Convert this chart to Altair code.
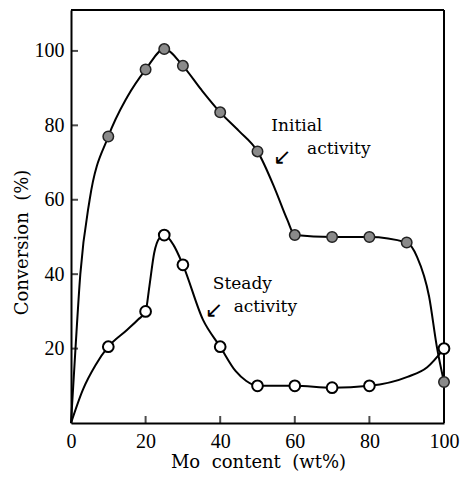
import altair as alt
import pandas as pd

# Measured points
init_x = [10, 20, 25, 30, 40, 50, 60, 70, 80, 90, 100]
init_y = [77, 95, 100.5, 96, 83.5, 73, 50.5, 50, 50, 48.5, 11]
steady_x = [10, 20, 25, 30, 40, 50, 60, 70, 80, 100]
steady_y = [20.5, 30, 50.5, 42.5, 20.5, 10, 10, 9.5, 10, 20]

# Smooth curve traces
init_curve_x = [0, 1.2, 2.5, 5, 10, 15, 20, 25, 30, 35, 40, 45, 50, 54.8, 58, 60, 70, 80, 90, 92.8, 96, 98.1, 100]
init_curve_y = [0, 20, 40, 60, 77, 87.5, 95, 100.5, 96, 89.5, 83.5, 78.5, 73, 62.6, 54.6, 50.5, 50, 50, 48.5, 44.6, 34, 20.4, 11]
steady_curve_x = [0, 3.2, 6.6, 10, 15, 18, 20, 21, 22.3, 23.7, 25, 27.5, 30, 35.4, 40, 44.1, 47, 50, 60, 70, 80, 90.2, 95.5, 100]
steady_curve_y = [0, 9, 15.6, 20.5, 25, 27.8, 30, 36.6, 45.7, 49.7, 50.5, 47.8, 42.5, 27.7, 20.5, 14, 11.3, 10, 10, 9.5, 10, 12.4, 15, 20]

x_ticks = [0, 20, 40, 60, 80, 100]
y_ticks = [20, 40, 60, 80, 100]
x_inner_ticks = [20, 40, 60, 80]
x_max = 100
y_max = 111

# frame edges (top and right), in data units
frame_x = [0, 100]
frame_x2 = [100, 100]
frame_y = [111, 0]
frame_y2 = [111, 111]

labels_text = ["Initial", "activity", "Steady", "activity"]
labels_x = [53.7, 63.3, 38, 43.6]
labels_y = [78.5, 72.3, 36, 29.8]
arrows_x = [56.6, 38.3]
arrows_y = [71.5, 30.4]

SERIF = "Liberation Serif"
TXT = "DejaVu Serif"
NB = "\u00a0"

xs = alt.Scale(domain=[0, x_max], nice=False)
ys = alt.Scale(domain=[0, y_max], nice=False)

pts_i = pd.DataFrame({"x": init_x, "y": init_y})
pts_s = pd.DataFrame({"x": steady_x, "y": steady_y})
cur_i = pd.DataFrame({"x": init_curve_x, "y": init_curve_y})
cur_s = pd.DataFrame({"x": steady_curve_x, "y": steady_curve_y})
frame = pd.DataFrame({"x": frame_x, "x2": frame_x2, "y": frame_y, "y2": frame_y2})

xaxis = alt.Axis(values=x_ticks, tickSize=0, grid=False, domainColor="black", domainWidth=2,
                 labelFont=SERIF, labelFontSize=20, labelColor="black", labelPadding=8,
                 labelFlush=False,
                 title=f"Mo{NB}{NB}content{NB}{NB}(wt%)", titleFont=TXT, titleFontSize=18,
                 titleFontWeight="normal", titleColor="black", titleX=187, titleY=39,
                 titleBaseline="middle", titleAlign="center")
yaxis = alt.Axis(values=y_ticks, tickSize=0, grid=False, domainColor="black", domainWidth=2,
                 labelFont=SERIF, labelFontSize=20, labelColor="black", labelPadding=7,
                 labelFlush=False,
                 title=f"Conversion{NB}{NB}(%)", titleFont=TXT, titleFontSize=18,
                 titleFontWeight="normal", titleColor="black", titleX=-49, titleY=232,
                 titleAngle=270, titleBaseline="middle", titleAlign="center")

frame_rules = alt.Chart(frame).mark_rule(color="black", strokeWidth=2).encode(
    x=alt.X("x:Q", scale=xs, axis=xaxis), x2="x2:Q",
    y=alt.Y("y:Q", scale=ys, axis=yaxis), y2="y2:Q")
line_i = alt.Chart(cur_i).mark_line(interpolate="monotone", color="black", strokeWidth=2).encode(
    x=alt.X("x:Q", scale=xs), y=alt.Y("y:Q", scale=ys), order="x:Q")
line_s = alt.Chart(cur_s).mark_line(interpolate="monotone", color="black", strokeWidth=2).encode(
    x=alt.X("x:Q", scale=xs), y=alt.Y("y:Q", scale=ys), order="x:Q")
dot_i = alt.Chart(pts_i).mark_point(shape="circle", filled=True, size=110, fill="#8a8a8a",
                                    stroke="#222222", strokeWidth=1.5, opacity=1).encode(
    x=alt.X("x:Q", scale=xs), y=alt.Y("y:Q", scale=ys))
dot_s = alt.Chart(pts_s).mark_point(shape="circle", filled=True, size=115, fill="white",
                                    stroke="black", strokeWidth=2, opacity=1).encode(
    x=alt.X("x:Q", scale=xs), y=alt.Y("y:Q", scale=ys))

tick_x = alt.Chart(pd.DataFrame({"x": x_inner_ticks})).mark_tick(
    orient="vertical", size=7, thickness=2, color="black", yOffset=-3.5).encode(
    x=alt.X("x:Q", scale=xs), y=alt.datum(0, scale=ys))
tick_y = alt.Chart(pd.DataFrame({"y": y_ticks})).mark_tick(
    orient="horizontal", size=7, thickness=2, color="black", xOffset=3.5).encode(
    y=alt.Y("y:Q", scale=ys), x=alt.datum(0, scale=xs))

txt = alt.Chart(pd.DataFrame({"x": labels_x, "y": labels_y, "t": labels_text})).mark_text(
    font=TXT, fontSize=17, align="left", baseline="alphabetic", color="black").encode(
    x=alt.X("x:Q", scale=xs), y=alt.Y("y:Q", scale=ys), text="t:N")
arr = alt.Chart(pd.DataFrame({"x": arrows_x, "y": arrows_y, "t": ["↙", "↙"]})).mark_text(
    font="DejaVu Sans", fontSize=22, align="center", baseline="middle", color="black").encode(
    x=alt.X("x:Q", scale=xs), y=alt.Y("y:Q", scale=ys), text="t:N")

chart = alt.layer(frame_rules, line_i, line_s, tick_x, tick_y, dot_i, dot_s, txt, arr).properties(
    width=373, height=413, autosize=alt.AutoSizeParams(type="none"),
    padding={"left": 63, "top": 2, "right": 16, "bottom": 55}, background="white"
).configure_view(stroke=None)

chart.save("out.html", embed_options={"renderer": "svg", "actions": False})
